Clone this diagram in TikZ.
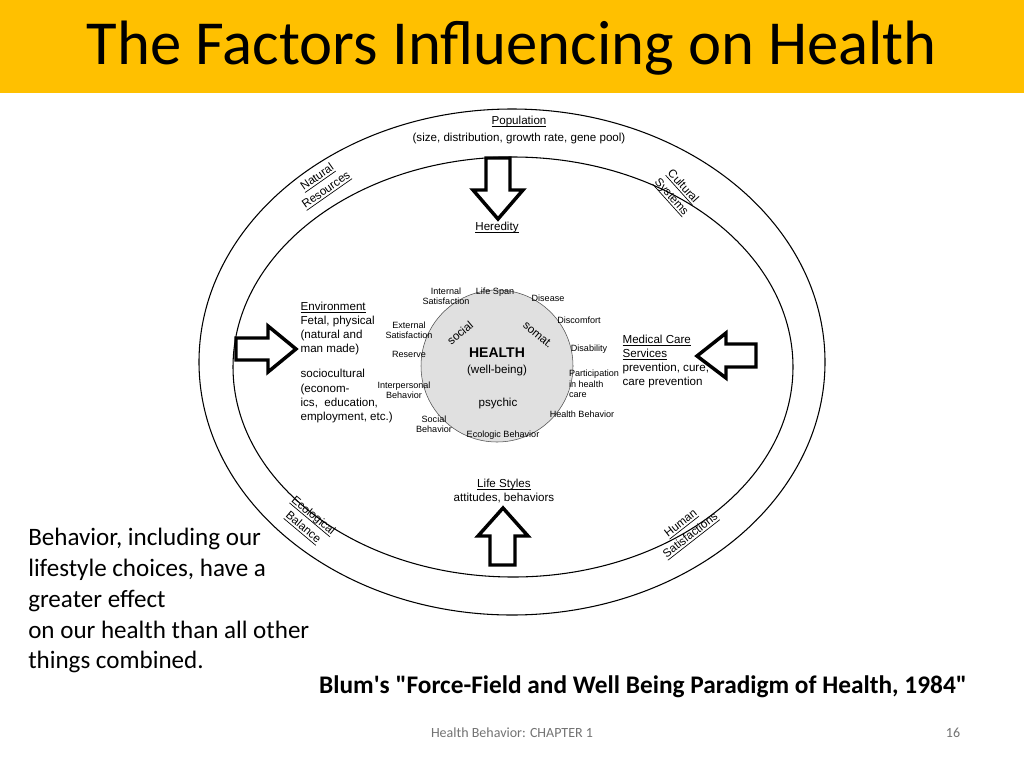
\documentclass[tikz,border=0pt]{standalone}
\usepackage{fontspec}
\setmainfont{Carlito}[Ligatures=TeXOff]
\newfontfamily\arialf{Liberation Sans}
\newcommand\ulx[1]{\setbox0\hbox{#1}\rlap{\vrule height -1.3pt depth 1.8pt width \wd0}\box0}
\begin{document}
\begin{tikzpicture}[x=0.75pt,y=-0.75pt,
  sm/.style={font=\arialf\fontsize{6.8}{7.8}\selectfont,align=center,inner sep=1pt},
  md/.style={font=\arialf\fontsize{8.7}{10.7}\selectfont,inner sep=1pt},
  barrow/.style={draw=black,line width=2.6pt,fill=white,line join=miter}]
\useasboundingbox (0,0) rectangle (1024,768);
\fill[white] (0,0) rectangle (1024,768);
\fill[fill={rgb,255:red,255;green,192;blue,0}] (0,0) rectangle (1024,93);
\node (title) at (512,48) {\fontsize{47}{52}\selectfont The Factors Influencing on Health};
% ellipses
\draw[line width=0.8pt] (512,362) ellipse [x radius=313, y radius=253];
\draw[line width=0.8pt] (513,367) ellipse [x radius=280, y radius=210];
\node[circle,draw=black!70,fill=black!12,minimum size=152pt*0.75] (health) at (497,366) {};
\node[md,align=center] (hl) at (497,362) {\fontsize{10.5}{12}\selectfont\bfseries HEALTH\\[1pt](well-being)};
\node[md] (soc) at (460,333) [rotate=40] {social};
\node[md] (som) at (538,335) [rotate=-40] {somat.};
\node[md] (psy) at (498,403) {psychic};
% outer labels
\node[md,align=center] (pop) at (519,130) {\ulx{Population}\\[2pt](size, distribution, growth rate, gene pool)};
\node[md,align=center,rotate=35] (nat) at (322,184) {\ulx{Natural}\\[1pt]\ulx{Resources}};
\node[md,align=center,rotate=-48] (cul) at (677,192) {\ulx{Cultural}\\[1pt]\ulx{Systems}};
\node[md,align=center,rotate=-40] (eco) at (308,522) {\ulx{Ecological}\\[1pt]\ulx{Balance}};
\node[md,align=center,rotate=38] (hum) at (686,530) {\ulx{Human}\\[1pt]\ulx{Satisfactions}};
\node[md] (her) at (497,227) {\ulx{Heredity}};
\node[md,align=center] (life) at (504,491) {\ulx{Life Styles}\\attitudes, behaviors};
\node[md,align=left,anchor=north west] (env) at (299,300) {\ulx{Environment}\\Fetal, physical\\(natural and\\man made)\\[8pt]sociocultural\\(econom-\\ics,\ \ education,\\employment, etc.)};
\node[md,align=left,anchor=north west] (med) at (621,333) {\ulx{Medical Care}\\\ulx{Services}\\prevention, cure,\\care prevention};
% small labels
\node[sm] (a1) at (446,296) {Internal\\Satisfaction};
\node[sm] (a2) at (495,292) {Life Span};
\node[sm] (a3) at (548,298) {Disease};
\node[sm] (a4) at (579,320) {Discomfort};
\node[sm] (a5) at (589,349) {Disability};
\node[sm,align=left] (a6) at (594,384) {Participation\\in health\\care};
\node[sm] (a7) at (582,414) {Health Behavior};
\node[sm] (a8) at (503,435) {Ecologic Behavior};
\node[sm] (a9) at (434,424) {Social\\Behavior};
\node[sm] (a10) at (404,390) {Interpersonal\\Behavior};
\node[sm] (a11) at (409,354) {Reserve};
\node[sm] (a12) at (409,330) {External\\Satisfaction};
% block arrows
\draw[barrow] (486,158) -- (510,158) -- (510,190) -- (523,190) -- (498,219) -- (473,190) -- (486,190) -- cycle;
\draw[barrow] (490,565) -- (515,565) -- (515,536) -- (528,536) -- (503,508) -- (478,536) -- (490,536) -- cycle;
\draw[barrow] (236,338) -- (268,338) -- (268,326) -- (296,349) -- (268,372) -- (268,360) -- (236,360) -- cycle;
\draw[barrow] (756,344) -- (726,344) -- (726,333) -- (697,356) -- (726,378) -- (726,367) -- (756,367) -- cycle;
% texts
\node[anchor=north west,align=left,inner sep=0pt,font=\fontsize{18.8}{23.1}\selectfont] (beh) at (28,528) {Behavior, including our\\lifestyle choices, have a\\greater effect\\on our health than all other\\things combined.};
\node[font=\fontsize{19}{22}\selectfont\bfseries] (blum) at (643,687) {Blum's "Force-Field and Well Being Paradigm of Health, 1984"};
\node[text=black!55,font=\fontsize{10.5}{12}\selectfont] (foot) at (512,733) {Health Behavior: CHAPTER 1};
\node[text=black!55,font=\fontsize{10.5}{12}\selectfont] (pg) at (953,733) {16};
\end{tikzpicture}
\end{document}
